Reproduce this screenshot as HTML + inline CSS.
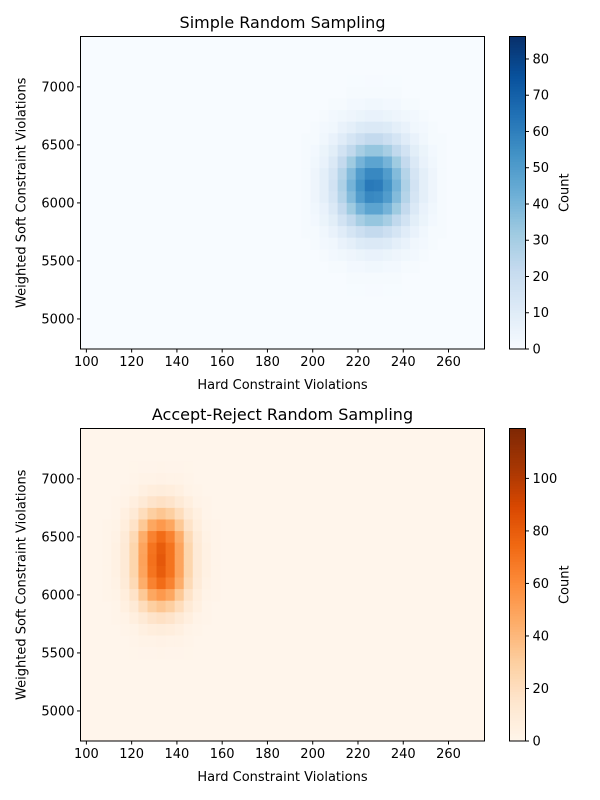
<!DOCTYPE html>
<html><head><meta charset="utf-8"><style>
body{margin:0;background:#fff}
svg{display:block;font-family:"DejaVu Sans","Liberation Sans",sans-serif}
</style></head><body>
<svg id="fig" width="600" height="800" viewBox="0 0 600 800" xmlns="http://www.w3.org/2000/svg"></svg>
<script>
// ---- data ----
const xTicks = [100,120,140,160,180,200,220,240,260];
const yTicks = [5000,5500,6000,6500,7000];
const blueCbTicks = [0,10,20,30,40,50,60,70,80];
const orangeCbTicks = [0,20,40,60,80,100];
const blueMax = 86.2;
const orangeMax = 119;
// Simple random sampling: bin centers (x: hard violations, y: soft violations), counts
const blueX = [193,197,201,205,209,213,217,221,225,229,233,237,241,245,249,253,257,261];
const blueY = [7050,6950,6850,6750,6650,6550,6450,6350,6250,6150,6050,5950,5850,5750,5650,5550,5450,5350,5250];
const blueCounts = [
 [0,0,0,0,0,0,0.3,0.3,0.4,0.4,0.3,0.3,0,0,0,0,0,0],
 [0,0,0,0,0,0,1,1,1,1,1,1,0,0,0,0,0,0],
 [0,0,0,0,1,1,2,2,3,3,2,2,1,1,0,0,0,0],
 [0,0,0,1,2,3,4,5,6,6,5,4,3,2,1,0,0,0],
 [0,0,1,2,3,6,8,11,12,12,11,8,6,3,2,1,0,0],
 [0,1,1,3,6,10,15,19,22,22,19,15,10,6,3,1,1,0],
 [0,1,2,5,9,16,23,30,34,34,30,23,16,9,5,2,1,0],
 [0,1,3,6,12,22,32,41,47,47,41,32,22,12,6,3,1,0],
 [0,1,4,8,15,26,38,50,57,57,50,38,26,15,8,4,1,0],
 [0,1,4,8,16,28,41,53,62,61,53,41,28,16,8,4,1,0],
 [0,1,4,8,15,26,38,50,57,56,50,38,26,15,8,4,1,0],
 [0,1,3,6,12,22,32,41,47,47,41,32,22,12,6,3,1,0],
 [0,1,2,5,9,16,23,30,34,34,30,23,16,9,5,2,1,0],
 [0,1,1,3,6,10,15,19,22,22,19,15,10,6,3,1,1,0],
 [0,0,1,2,3,6,8,11,12,12,11,8,6,3,2,1,0,0],
 [0,0,0,1,2,3,4,5,6,6,5,4,3,2,1,0,0,0],
 [0,0,0,0,1,1,2,2,3,3,2,2,1,1,0,0,0,0],
 [0,0,0,0,0,0,1,1,1,1,1,1,0,0,0,0,0,0],
 [0,0,0,0,0,0,0.3,0.3,0.4,0.4,0.3,0.3,0,0,0,0,0,0]
];
// Accept-reject sampling
const orangeX = [105,109,113,117,121,125,129,133,137,141,145,149,153,157,161];
const orangeY = [7100,7000,6900,6800,6700,6600,6500,6400,6300,6200,6100,6000,5900,5800,5700,5600,5500];
const orangeCounts = [
 [0,0,0,0,0.3,0.5,0.7,0.8,0.7,0.5,0.3,0,0,0,0],
 [0,0,0,0,1,2,2,2.6,2,2,1,0,0,0,0],
 [0,0,0,1,2,5,7,7.5,7,5,2,1,0,0,0],
 [0,0,1,2,6,11,16,18,16,11,6,2,1,0,0],
 [0,0,1,5,11,21,30,34,30,21,11,5,1,0,0],
 [0,1,2,7,17,33,48,54,48,33,17,7,2,1,0],
 [0,1,3,10,23,45,64,73,64,45,23,10,3,1,0],
 [0,1,4,11,26,49,70,80,70,49,26,11,4,1,0],
 [0,1,4,11,26,50,71,82,70,49,26,11,4,1,0],
 [0,1,4,11,26,49,70,80,70,49,26,11,4,1,0],
 [0,1,3,10,23,45,64,73,64,45,23,10,3,1,0],
 [0,1,2,7,17,33,48,54,48,33,17,7,2,1,0],
 [0,0,1,5,11,21,30,34,30,21,11,5,1,0,0],
 [0,0,1,2,6,11,16,18,16,11,6,2,1,0,0],
 [0,0,0,1,2,5,7,7.5,7,5,2,1,0,0,0],
 [0,0,0,0,1,2,2,2.6,2,2,1,0,0,0,0],
 [0,0,0,0,0.3,0.5,0.7,0.8,0.7,0.5,0.3,0,0,0,0]
];
const binW = 4, binH = 100;

// ---- helpers ----
const NS = "http://www.w3.org/2000/svg";
const fig = document.getElementById('fig');
function mk(tag, attrs, parent){const e=document.createElementNS(NS,tag);for(const k in attrs)e.setAttribute(k,attrs[k]);(parent||fig).appendChild(e);return e;}
const BLUES=["#f7fbff","#deebf7","#c6dbef","#9ecae1","#6baed6","#4292c6","#2171b5","#08519c","#08306b"];
const ORANGES=["#fff5eb","#fee6ce","#fdd0a2","#fdae6b","#fd8d3c","#f16913","#d94801","#a63603","#7f2704"];
function cmap(stops,t){t=Math.max(0,Math.min(1,t));const p=t*(stops.length-1);const i=Math.min(stops.length-2,Math.floor(p));const f=p-i;
 const a=stops[i],b=stops[i+1];const c=k=>Math.round(parseInt(a.substr(k,2),16)*(1-f)+parseInt(b.substr(k,2),16)*f);
 return `rgb(${c(1)},${c(3)},${c(5)})`;}

function panel(oy, title, xs, ys, counts, stops, vmax, cbTicks, prefix){
 const L=80.5,R=484.5,T=36.5+oy,B=349+oy;
 const x0=97.4,x1=275.9,y0=4741,y1=7434;
 const sx=v=>L+(v-x0)/(x1-x0)*(R-L);
 const sy=v=>B-(v-y0)/(y1-y0)*(B-T);
 const g=mk('g',{});
 
 
 mk('rect',{x:L,y:T,width:R-L,height:B-T,fill:stops[0]},g);
 for(let r=0;r<ys.length;r++)for(let c=0;c<xs.length;c++){
  const v=counts[r][c]; if(v<=0) continue;
  const xa=sx(xs[c]-binW/2), xb=sx(xs[c]+binW/2), ya=sy(ys[r]+binH/2), yb=sy(ys[r]-binH/2);
  const cell=mk('rect',{x:xa,y:ya,width:xb-xa+0.6,height:yb-ya+0.6,fill:cmap(stops,v/vmax)},g);
  
  
 }
 const frame=mk('rect',{x:L,y:T,width:R-L,height:B-T,fill:'none',stroke:'#000','stroke-width':1});
 
 
 xTicks.forEach(t=>{const X=sx(t);mk('line',{x1:X,x2:X,y1:B,y2:B+3.5,stroke:'#000'});
  const tx=mk('text',{x:X,y:B+17,'font-size':13,'text-anchor':'middle',fill:'#000'});tx.textContent=t;
  
  });
 yTicks.forEach(t=>{const Y=sy(t);mk('line',{x1:L,x2:L-3.5,y1:Y,y2:Y,stroke:'#000'});
  const tx=mk('text',{x:L-6,y:Y+4.5,'font-size':13,'text-anchor':'end',fill:'#000'});tx.textContent=t;
  
  });
 const ti=mk('text',{x:(L+R)/2,y:oy+28,'font-size':16,'text-anchor':'middle',fill:'#000'});ti.textContent=title;
 
 
 const xl=mk('text',{x:(L+R)/2,y:B+40,'font-size':13,'text-anchor':'middle',fill:'#000'});xl.textContent='Hard Constraint Violations';
 
 
 const yl=mk('text',{x:0,y:0,'font-size':13,'text-anchor':'middle',fill:'#000',transform:`translate(25.5,${(T+B)/2}) rotate(-90)`});yl.textContent='Weighted Soft Constraint Violations';
 
 
 const cL=509.5,cR=525.5;
 const cb=mk('g',{});
 
 
 const n=120;
 for(let i=0;i<n;i++){const ya=B-(i+1)*(B-T)/n;mk('rect',{x:cL,y:ya,width:cR-cL,height:(B-T)/n+0.5,fill:cmap(stops,(i+0.5)/n)},cb);}
 mk('rect',{x:cL,y:T,width:cR-cL,height:B-T,fill:'none',stroke:'#000'},cb);
 cbTicks.forEach(t=>{const Y=B-t/vmax*(B-T);mk('line',{x1:cR,x2:cR+3.5,y1:Y,y2:Y,stroke:'#000'},cb);
  const tx=mk('text',{x:cR+7,y:Y+4.5,'font-size':13,fill:'#000'},cb);tx.textContent=t;
  
  });
 const cl=mk('text',{x:0,y:0,'font-size':13,'text-anchor':'middle',fill:'#000',transform:`translate(568.5,${(T+B)/2}) rotate(-90)`},cb);cl.textContent='Count';
 
 
}
panel(0,'Simple Random Sampling',blueX,blueY,blueCounts,BLUES,blueMax,blueCbTicks,'simple');
panel(392,'Accept-Reject Random Sampling',orangeX,orangeY,orangeCounts,ORANGES,orangeMax,orangeCbTicks,'accept-reject');
</script>
</body></html>
